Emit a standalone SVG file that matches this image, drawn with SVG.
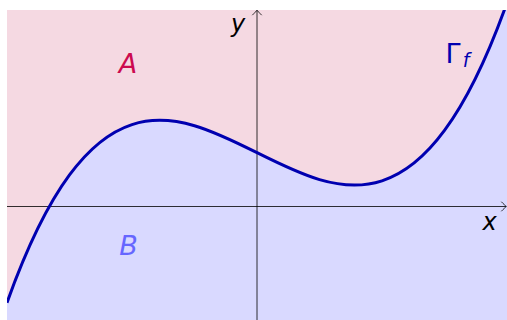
<svg xmlns="http://www.w3.org/2000/svg" width="507" height="320" viewBox="0 0 507 320">
  <style>
    .lbl { font-family: "DejaVu Sans", "Liberation Sans", sans-serif; font-style: italic; }
    .axis { fill: none; stroke: #000; stroke-width: 0.8; }
    .tip { fill: none; stroke: #000; stroke-width: 0.8; stroke-linecap: round; stroke-linejoin: round; }
  </style>
  <defs>
    <clipPath id="plot">
      <rect x="7" y="10" width="500" height="310"/>
    </clipPath>
  </defs>
  <rect x="0" y="0" width="507" height="320" fill="#ffffff"/>
  <g id="regionA" clip-path="url(#plot)">
    <rect x="7" y="10" width="500" height="310" fill="#f5d9e2"/>
  </g>
  <g id="regionB" clip-path="url(#plot)">
    <path d="M7,302.7 C173.67,-163.97 340.33,469.37 507,2.7 L507,320 L7,320 Z" fill="#d9d9ff"/>
  </g>
  <g id="connectors">
    <line class="axis" x1="7" y1="206.5" x2="506" y2="206.5"/>
    <path class="tip" d="M501.6,202 C503.5,204 505.4,205.8 506.4,206.5 C505.4,207.2 503.5,209 501.6,211"/>
    <line class="axis" x1="257" y1="320" x2="257" y2="10.8"/>
    <path class="tip" d="M252.6,14.9 C254.5,13 256.3,11.1 257,10.1 C257.7,11.1 259.5,13 261.4,14.9"/>
  </g>
  <g id="curve" clip-path="url(#plot)">
    <path d="M7,302.7 C173.67,-163.97 340.33,469.37 507,2.7" fill="none" stroke="#0000b0" stroke-width="3"/>
  </g>
  <g id="labelX"><text class="lbl" x="489.5" y="230" font-size="24" text-anchor="middle" fill="#000">x</text></g>
  <g id="labelY"><text class="lbl" x="238" y="32" font-size="24" text-anchor="middle" fill="#000">y</text></g>
  <g id="labelA"><text class="lbl" x="128" y="72.7" font-size="27" text-anchor="middle" fill="#cc0a50">A</text></g>
  <g id="labelB"><text class="lbl" x="128.5" y="255" font-size="27" text-anchor="middle" fill="#6666ff">B</text></g>
  <g id="labelGamma"><text class="lbl" x="445.6" y="63" font-size="27" fill="#0000b0"><tspan font-style="normal">Γ</tspan><tspan font-size="19" dx="2" dy="4">f</tspan></text></g>
</svg>
